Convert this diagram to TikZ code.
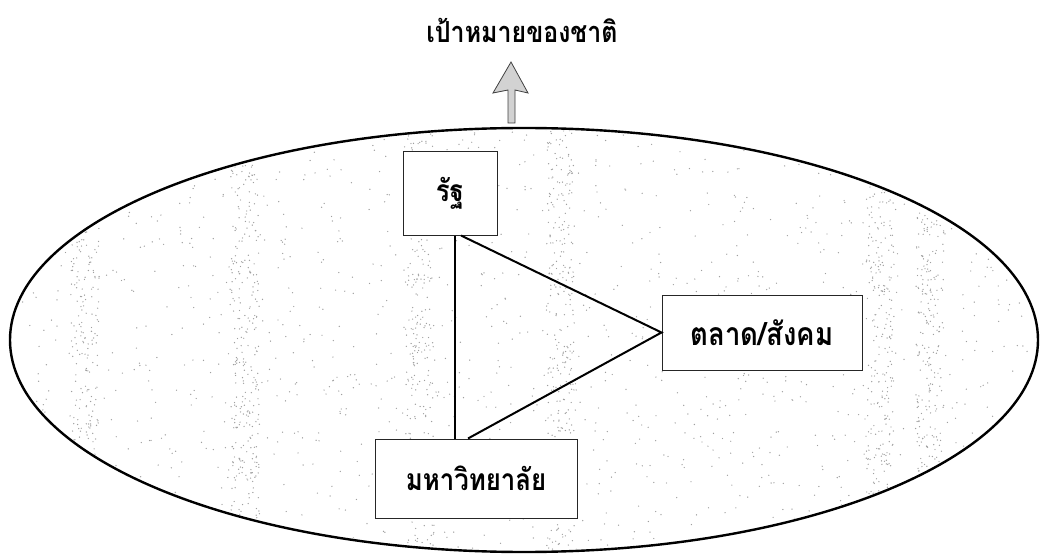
\documentclass[tikz,border=0pt]{standalone}
\usepackage{fontspec}
\newfontfamily\thaifont[Script=Thai,FakeStretch=0.86]{Loma}
\begin{document}
\begin{tikzpicture}[x=1pt,y=-1pt,
  box/.style={draw=black!85, line width=1pt, fill=white, inner sep=0pt,
    font=\thaifont\bfseries\fontsize{30}{34}\selectfont},
  link/.style={line width=2pt, black},
  speck/.style={fill=gray!75}]
\useasboundingbox (0,0) rectangle (1045,559);
% speckle texture inside the ellipse
\begin{scope}
\clip (524,340) ellipse [x radius=512, y radius=210];
\pgfmathsetseed{7}
\foreach \i in {1,...,1400}{
  \pgfmathsetmacro\px{524+512*rand}
  \pgfmathsetmacro\py{340+212*rand}
  \fill[speck] (\px,\py) circle (0.7);
}
\foreach \bx in {85,245,420,560,880,930}{
  \foreach \i in {1,...,300}{
    \pgfmathsetmacro\px{\bx+14*rand}
    \pgfmathsetmacro\py{340+212*rand}
    \fill[speck] (\px,\py) circle (0.7);
  }
}
\end{scope}
\draw[line width=2.4pt] (524,340) ellipse [x radius=514, y radius=212];
% title and arrow
\node[font=\thaifont\bfseries\fontsize{29}{33}\selectfont] (goal) at (522,30) {เป้าหมายของชาติ};
\draw[fill=gray!35, draw=gray!50!black, line width=0.8pt]
  (511,62) -- (528,93) -- (515,90) -- (515,123) -- (508,123) -- (508,90) -- (493,93) -- cycle;
% boxes
\node[box, minimum width=94pt, minimum height=83pt] (rat) at (450,193.5) {รัฐ};
\node[box, minimum width=200pt, minimum height=75pt, font=\thaifont\bfseries\fontsize{32}{36}\selectfont] (talat) at (762,332.5) {ตลาด/สังคม\hspace{32pt}};
\node[box, minimum width=202pt, minimum height=79pt] (uni) at (476,478.5) {มหาวิทยาลัย\hspace{20pt}};
% connectors
\draw[link] (rat.south -| 455,0) -- (uni.north -| 455,0);
\draw[link] (rat.south -| 461,0) -- (talat.west) -- (uni.north -| 468,0);
\end{tikzpicture}
\end{document}
